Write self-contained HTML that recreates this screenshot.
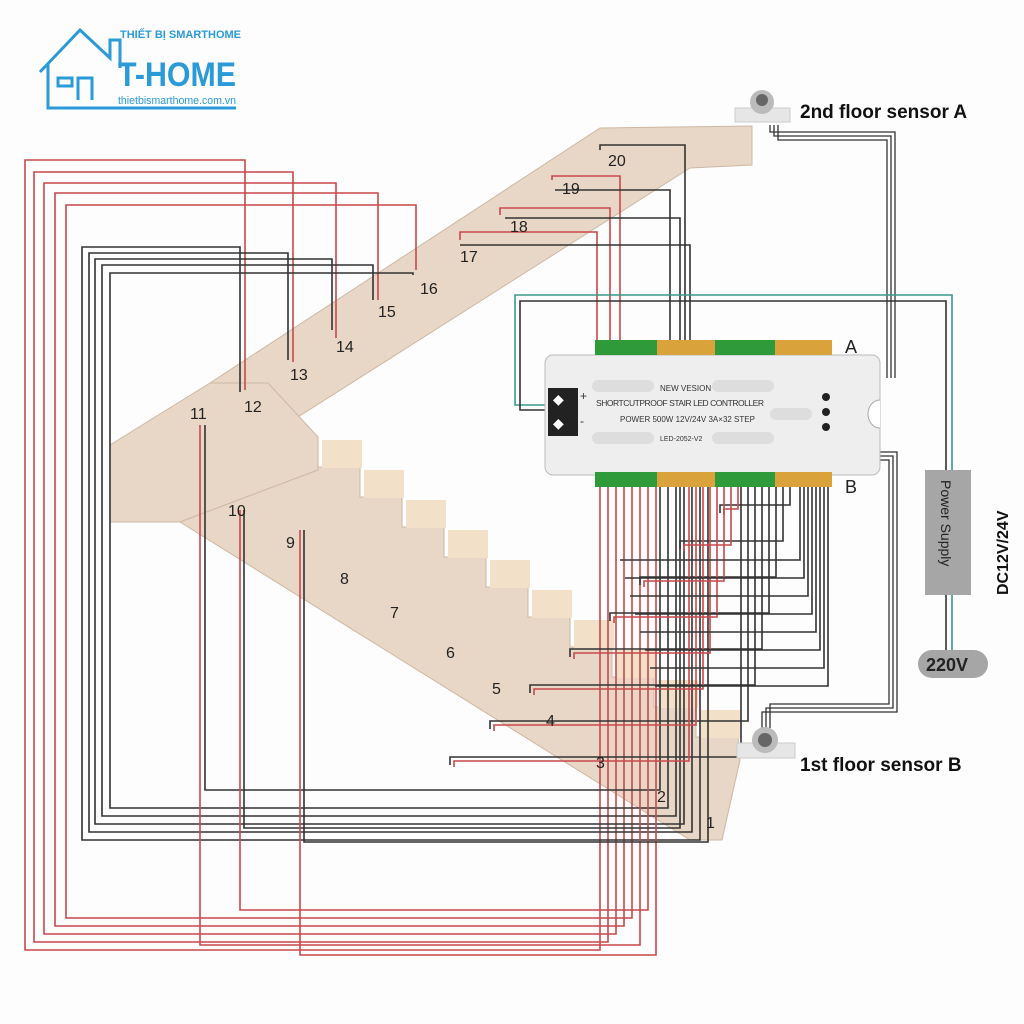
<!DOCTYPE html>
<html><head><meta charset="utf-8"><style>
html,body{margin:0;padding:0;background:#fff;width:1024px;height:1024px;overflow:hidden}
svg{display:block}
text{font-family:"Liberation Sans",Arial,sans-serif}
</style></head><body>
<svg id="s" width="1024" height="1024" viewBox="0 0 1024 1024" xmlns="http://www.w3.org/2000/svg">
<rect width="1024" height="1024" fill="#fdfdfd"/>
<!-- logo -->
<g fill="none" stroke="#2a9ad8" stroke-width="3">
<path d="M40 72 L80 30 L110 58 L110 40 L120 40 L120 68 M48 64 L48 108 L236 108"/>
<rect x="58" y="78" width="14" height="8"/><path d="M78 100 V78 H92 V100"/>
</g>
<text x="120" y="38" font-size="11" font-weight="bold" fill="#2a9ad8">THIẾT BỊ SMARTHOME</text>
<text x="118" y="86" font-size="34" font-weight="bold" fill="#2a9ad8" textLength="118" lengthAdjust="spacingAndGlyphs">T-HOME</text>
<text x="118" y="104" font-size="11" fill="#2a9ad8" textLength="118" lengthAdjust="spacingAndGlyphs">thietbismarthome.com.vn</text>
<!-- stairs -->
<g fill="#e8d7c7" stroke="#cdb8a4" stroke-width="1">
<polygon points="600,128 752,126 752,165 690,168 268,436 175,436 210,383"/>
<polygon points="110,445 210,383 268,383 318,437 318,470 180,522 110,522"/>
<polygon id="lf" points=""/>
</g>
<g id="g"></g>
<!-- controller -->
<g>
<rect x="545" y="355" width="335" height="120" rx="8" fill="#eeeeee" stroke="#bbb"/>
<rect x="548" y="388" width="30" height="48" fill="#222"/>
<text x="553" y="404" font-size="14" fill="#fff">◆</text><text x="553" y="428" font-size="14" fill="#fff">◆</text>
<text x="580" y="400" font-size="12" fill="#333">+</text><text x="580" y="425" font-size="12" fill="#333">-</text>
<text x="660" y="391" font-size="8" fill="#333">NEW VESION</text>
<text x="596" y="406" font-size="8.5" fill="#333" textLength="168">SHORTCUTPROOF STAIR LED CONTROLLER</text>
<text x="620" y="422" font-size="8" fill="#333">POWER 500W 12V/24V 3A×32 STEP</text>
<text x="660" y="441" font-size="7" fill="#333">LED-2052-V2</text>
<rect x="592" y="380" width="62" height="12" rx="6" fill="#ddd"/><rect x="712" y="380" width="62" height="12" rx="6" fill="#ddd"/>
<rect x="592" y="432" width="62" height="12" rx="6" fill="#ddd"/><rect x="712" y="432" width="62" height="12" rx="6" fill="#ddd"/>
<rect x="770" y="408" width="42" height="12" rx="6" fill="#ddd"/>
<circle cx="826" cy="397" r="4" fill="#222"/><circle cx="826" cy="412" r="4" fill="#222"/><circle cx="826" cy="427" r="4" fill="#222"/>
<path d="M880 400 a12 14 0 0 0 0 28" fill="#fff" stroke="#aaa"/>
<rect x="595" y="340" width="62" height="15" fill="#2f9a3a"/><rect x="657" y="340" width="58" height="15" fill="#d9a23a"/>
<rect x="715" y="340" width="60" height="15" fill="#2f9a3a"/><rect x="775" y="340" width="57" height="15" fill="#d9a23a"/>
<rect x="595" y="472" width="62" height="15" fill="#2f9a3a"/><rect x="657" y="472" width="58" height="15" fill="#d9a23a"/>
<rect x="715" y="472" width="60" height="15" fill="#2f9a3a"/><rect x="775" y="472" width="57" height="15" fill="#d9a23a"/>
<text x="845" y="353" font-size="18" fill="#222">A</text><text x="845" y="493" font-size="18" fill="#222">B</text>
</g>
<!-- power -->
<rect x="925" y="470" width="46" height="125" fill="#a6a6a6"/>
<text transform="translate(941,480) rotate(90)" font-size="14" fill="#222">Power Supply</text>
<text transform="translate(1008,595) rotate(-90)" font-size="16" font-weight="bold" fill="#111">DC12V/24V</text>
<rect x="918" y="650" width="70" height="28" rx="14" fill="#a6a6a6"/>
<text x="926" y="671" font-size="18" font-weight="bold" fill="#222">220V</text>
<!-- sensors -->
<rect x="735" y="108" width="55" height="14" fill="#e6e6e6" stroke="#ccc"/><ellipse cx="762" cy="102" rx="12" ry="12" fill="#bbb"/><circle cx="762" cy="100" r="6" fill="#666"/>
<text x="800" y="118" font-size="19" font-weight="bold" fill="#111">2nd floor sensor A</text>
<rect x="737" y="743" width="58" height="15" fill="#e6e6e6" stroke="#ccc"/><ellipse cx="765" cy="740" rx="13" ry="13" fill="#bbb"/><circle cx="765" cy="740" r="7" fill="#666"/>
<text x="800" y="771" font-size="19" font-weight="bold" fill="#111">1st floor sensor B</text>
<g id="n" font-size="16" fill="#222"></g>
</svg>
<script>
var NS="http://www.w3.org/2000/svg",g=document.getElementById('g');
function pl(pts,c,w){var p=document.createElementNS(NS,'polyline');p.setAttribute('points',pts.map(function(a){return a.join(',')}).join(' '));p.setAttribute('fill','none');p.setAttribute('stroke',c);p.setAttribute('stroke-width',w||1.6);g.appendChild(p);}
var R="#c8484c",K="#333";
var P=[[318,437]],x=318,y=437;for(var i=0;i<10;i++){y+=30;P.push([x,y]);x+=42;P.push([x,y]);}
P.push([740,760],[722,840],[690,840],[180,522],[318,470]);
document.getElementById('lf').setAttribute('points',P.map(function(a){return a.join(',')}).join(' '));
for(i=0;i<10;i++){var r=document.createElementNS(NS,'rect');r.setAttribute('x',322+i*42);r.setAttribute('y',470+i*30-30);r.setAttribute('width',40);r.setAttribute('height',28);r.setAttribute('fill','#f2e1c8');g.appendChild(r);}
var rx=[25,34,44,55,66],rt=[160,172,183,193,205],rs=[245,293,336,378,416],rsy=[390,362,338,300,270],rb=[950,942,934,926,918],rr=[600,608,616,624,632];
for(i=0;i<5;i++){pl([[rs[i],rsy[i]],[rs[i],rt[i]],[rx[i],rt[i]],[rx[i],rb[i]],[rr[i],rb[i]],[rr[i],487]],R);}
var kx=[82,89,95,102,110],kt=[247,253,259,265,273],ks=[240,288,332,373,413],ksy=[392,360,330,300,275],kb=[840,832,824,816,808],kr=[700,692,684,676,668];
for(i=0;i<5;i++){pl([[ks[i],ksy[i]],[ks[i],kt[i]],[kx[i],kt[i]],[kx[i],kb[i]],[kr[i],kb[i]],[kr[i],487]],K);}
pl([[200,425],[200,945],[640,945],[640,487]],R);pl([[205,425],[205,790],[660,790],[660,487]],K);
pl([[240,510],[240,910],[648,910],[648,487]],R);pl([[244,510],[244,828],[680,828],[680,487]],K);
pl([[300,530],[300,955],[656,955],[656,487]],R);pl([[304,530],[304,842],[708,842],[708,487]],K);
pl([[460,240],[460,232],[597,232],[597,340]],R);pl([[500,215],[500,208],[610,208],[610,340]],R);
pl([[552,180],[552,176],[620,176],[620,340]],R);pl([[600,150],[600,145],[685,145],[685,340]],K);
pl([[460,245],[690,245],[690,340]],K);pl([[555,190],[670,190],[670,340]],K);pl([[505,218],[680,218],[680,340]],K);
var sx=[700,660,620,590,550,510,470,430],bx=[790,783,776,769,762,755,748,741];
for(i=0;i<8;i++){var ly=505+i*36;pl([[sx[i]+20,ly+8],[sx[i]+20,ly],[bx[i],ly],[bx[i],487]],K);pl([[sx[i]+24,ly+10],[sx[i]+24,ly+4],[738-i*7,ly+4],[738-i*7,487]],R);}
for(i=0;i<8;i++){pl([[800+i*4,487],[800+i*4,560+i*18],[620+i*5,560+i*18]],K);}
for(i=0;i<3;i++){pl([[770+i*4,125],[770+i*4,132+i*4],[895-i*4,132+i*4],[895-i*4,378]],K,1.3);
pl([[880,452+i*4],[897-i*4,452+i*4],[897-i*4,712-i*4],[762+i*4,712-i*4],[762+i*4,728]],K,1.3);}
pl([[548,405],[515,405],[515,295],[952,295],[952,470]],"#3a9a8a");pl([[548,410],[520,410],[520,301],[946,301],[946,470]],K);
pl([[946,595],[946,650]],K);pl([[952,595],[952,650]],"#3a9a8a");
var nm=[[1,706,828],[2,657,802],[3,596,768],[4,546,726],[5,492,694],[6,446,658],[7,390,618],[8,340,584],[9,286,548],[10,228,516],[11,190,419],[12,244,412],[13,290,380],[14,336,352],[15,378,317],[16,420,294],[17,460,262],[18,510,232],[19,562,194],[20,608,166]];
var n=document.getElementById('n');nm.forEach(function(a){var t=document.createElementNS(NS,'text');t.setAttribute('x',a[1]);t.setAttribute('y',a[2]);t.textContent=a[0];n.appendChild(t);});
</script>
</body></html>
